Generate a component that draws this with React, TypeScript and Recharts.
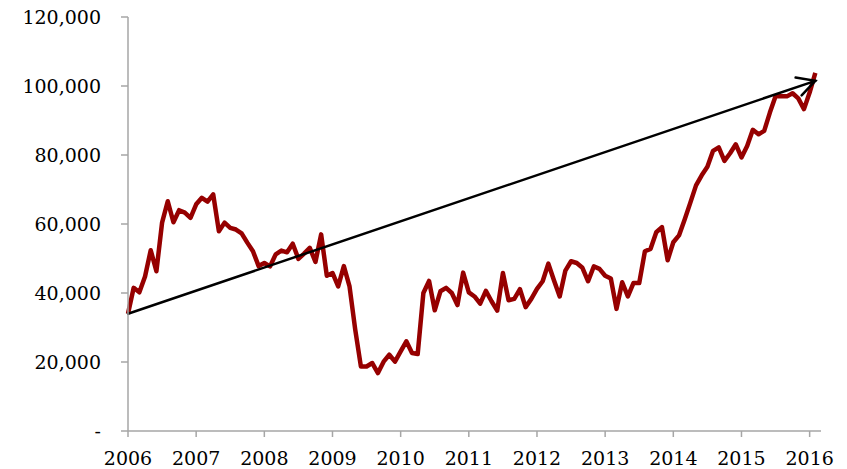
import { LineChart, Line, XAxis, YAxis, ReferenceLine } from 'recharts';

// monthly series, Jan 2006 .. Feb 2016
const YEARS = [2006, 2007, 2008, 2009, 2010, 2011, 2012, 2013, 2014, 2015, 2016];
const VALUES = [
  34000, 41500, 40200, 44800, 52400, 46300, 60400, 66600, 60500, 64000, 63300, 61800,
  65700, 67600, 66500, 68600, 57900, 60400, 58900, 58400, 57300, 54600, 52100, 47800,
  48700, 47700, 51200, 52300, 51800, 54300, 49900, 51400, 53100, 49000, 57000, 45000,
  45800, 41900, 47800, 41900, 29400, 18700, 18700, 19700, 16800, 20100, 22100, 20100,
  23100, 26000, 22600, 22300, 40000, 43500, 35000, 40500, 41500, 40000, 36500, 45900,
  40200, 39000, 36900, 40600, 37600, 34900, 45800, 37900, 38300, 41100, 35900, 38300,
  41200, 43400, 48500, 43600, 39000, 46500, 49200, 48700, 47300, 43400, 47700, 47000,
  45000, 44200, 35400, 43100, 39000, 42900, 42900, 52100, 52800, 57600, 59100, 49500,
  54700, 56700, 61300, 66200, 71200, 74100, 76600, 81200, 82200, 78300, 80500, 83100,
  79300, 82600, 87300, 86000, 87000, 92300, 97000, 97000, 97000, 97900, 96400, 93300,
  98100, 103800,
];
const Y_TICKS = [0, 20000, 40000, 60000, 80000, 100000, 120000];
const TREND_FROM = { month: 0, value: 34000 };
const TREND_TO = { month: 121, value: 101500 };

const data = VALUES.map((v, i) => ({ month: i, value: v }));

const font = { fill: '#000', fontSize: 19, fontFamily: "'DejaVu Serif', serif" };

const Arrow = (props: any) => {
  const { x1, y1, x2, y2 } = props;
  const ang = Math.atan2(y1 - y2, x1 - x2);
  const len = 20;
  const spread = (28 * Math.PI) / 180;
  const a1 = { x: x2 + len * Math.cos(ang - spread), y: y2 + len * Math.sin(ang - spread) };
  const a2 = { x: x2 + len * Math.cos(ang + spread), y: y2 + len * Math.sin(ang + spread) };
  return (
    <g stroke="#000" strokeWidth={2.5} fill="none" strokeLinecap="round">
      <line x1={x1} y1={y1} x2={x2} y2={y2} />
      <polyline points={`${a1.x},${a1.y} ${x2},${y2} ${a2.x},${a2.y}`} strokeLinejoin="miter" />
    </g>
  );
};

export default function App() {
  return (
    <div style={{ position: 'absolute', left: 0, top: 0, width: 847, height: 469, background: '#fff' }}>
      <LineChart width={847} height={469} data={data} margin={{ top: 17, right: 26, bottom: 0, left: 0 }}>
        <XAxis
          dataKey="month"
          type="number"
          domain={[0, 122]}
          ticks={YEARS.map((_, i) => i * 12)}
          tickFormatter={(t: number) => String(YEARS[t / 12])}
          height={38}
          stroke="#a6a6a6"
          strokeWidth={1.5}
          tickSize={6}
          tickMargin={15}
          tick={font}
        />
        <YAxis
          type="number"
          domain={[0, 120000]}
          ticks={Y_TICKS}
          tickFormatter={(t: number) => (t === 0 ? '-' : t.toLocaleString('en-US'))}
          width={128}
          stroke="#a6a6a6"
          strokeWidth={1.5}
          tickSize={7}
          tickMargin={20}
          tick={font}
          interval={0}
        />
        <Line
          type="linear"
          dataKey="value"
          stroke="#960000"
          strokeWidth={4.5}
          strokeLinejoin="round"
          dot={false}
          isAnimationActive={false}
        />
        <ReferenceLine
          segment={[
            { x: TREND_FROM.month, y: TREND_FROM.value },
            { x: TREND_TO.month, y: TREND_TO.value },
          ]}
          ifOverflow="visible"
          shape={Arrow}
        />
      </LineChart>
    </div>
  );
}
